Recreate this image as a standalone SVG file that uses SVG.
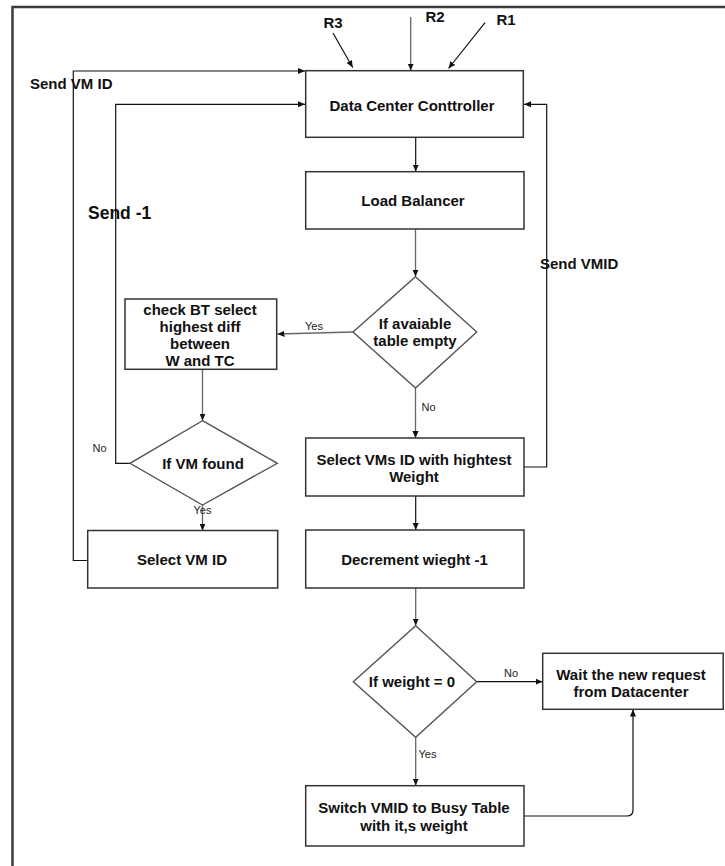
<svg xmlns="http://www.w3.org/2000/svg" width="725" height="866" viewBox="0 0 725 866">
<defs>
<marker id="ah" viewBox="0 0 8 8" refX="8" refY="4" markerWidth="7" markerHeight="7" markerUnits="userSpaceOnUse" orient="auto">
<path d="M0,0.5 L8,4 L0,7.5 Z" fill="#111"/>
</marker>
<style>
.box{fill:#fff;stroke:#333;stroke-width:1.5}
.dia{fill:#fff;stroke:#555;stroke-width:1.4}
.t{font-family:"Liberation Sans",Arial,sans-serif;font-weight:bold;font-size:15px;fill:#111;text-anchor:middle}
.ts{font-family:"Liberation Sans",Arial,sans-serif;font-size:11px;fill:#222}
.c{fill:none;stroke:#111;stroke-width:1.2;marker-end:url(#ah)}
.cg{fill:none;stroke:#666;stroke-width:1.3;marker-end:url(#ah)}
</style>
</defs>
<rect width="725" height="866" fill="#fff"/>
<path d="M12.5 866 V7 H725" fill="none" stroke="#3a3a3a" stroke-width="2.5"/>

<g id="connectors">
<path class="c" d="M88 560.5 H73.3 V71 H305"/>
<path class="c" d="M130 463.3 H115.7 V104.3 H305"/>
<path class="c" d="M524 467 H546.7 V104.3 H524"/>
<path class="c" d="M333 33 L352.7 67.5"/>
<path class="cg" d="M410.7 17 V70.5"/>
<path class="c" d="M485 22.7 L448.5 68.5"/>
<path class="c" d="M415.7 137.3 V171.5"/>
<path class="cg" d="M415.5 229 V276.5"/>
<path class="cg" d="M353 332 L277.5 334"/>
<path class="cg" d="M415.5 388 V438"/>
<path class="cg" d="M202.5 369.3 V420.5"/>
<path class="cg" d="M202.5 505 V530.5"/>
<path class="c" d="M415.7 496 V530"/>
<path class="cg" d="M415.7 588 V625.5"/>
<path class="c" d="M476.7 681.7 H542.5"/>
<path class="cg" d="M415.7 737.3 V785.5"/>
<path class="c" d="M524 816 H627 Q633 816 633 810 V709.5"/>
</g>

<g id="r-labels">
<text class="t" x="333" y="28">R3</text>
<text class="t" x="435" y="21.5">R2</text>
<text class="t" x="506" y="25">R1</text>
</g>

<g id="edge-labels">
<text class="t" x="30" y="89" style="text-anchor:start">Send VM ID</text>
<text class="t" x="88" y="219" style="text-anchor:start;font-size:17.5px">Send -1</text>
<text class="t" x="540" y="268.5" style="text-anchor:start">Send VMID</text>
<text class="ts" x="305" y="330">Yes</text>
<text class="ts" x="421.5" y="410.5">No</text>
<text class="ts" x="92.5" y="452">No</text>
<text class="ts" x="202.5" y="514" style="text-anchor:middle">Yes</text>
<text class="ts" x="504" y="677">No</text>
<text class="ts" x="418.5" y="758">Yes</text>
</g>

<g id="dcc">
<rect class="box" x="305.7" y="70.7" width="217.6" height="66.6"/>
<text class="t" x="412" y="111">Data Center Conttroller</text>
</g>

<g id="load-balancer">
<rect class="box" x="305.7" y="171.7" width="218.3" height="57.3"/>
<text class="t" x="413" y="205.5">Load Balancer</text>
</g>

<g id="if-available-empty">
<polygon class="dia" points="415.5,276.7 476.7,332 415.5,388 353,332"/>
<text class="t" x="415" y="329">If avaiable</text>
<text class="t" x="415" y="345.5">table empty</text>
</g>

<g id="check-bt">
<rect class="box" x="125" y="299" width="151.7" height="70.3"/>
<text class="t" x="200" y="314.5">check BT select</text>
<text class="t" x="200" y="331.5">highest diff</text>
<text class="t" x="200" y="348.5">between</text>
<text class="t" x="200" y="366">W and TC</text>
</g>

<g id="if-vm-found">
<polygon class="dia" points="202.5,420.7 277.3,463.3 202.5,505 130,463.3"/>
<text class="t" x="203" y="468.5">If VM found</text>
</g>

<g id="select-vm-id">
<rect class="box" x="87.7" y="530.5" width="190" height="57.5"/>
<text class="t" x="182" y="564.5">Select VM ID</text>
</g>

<g id="select-vms-highest">
<rect class="box" x="305.7" y="438" width="218.3" height="58"/>
<text class="t" x="414" y="464.5">Select VMs ID with hightest</text>
<text class="t" x="414" y="482">Weight</text>
</g>

<g id="decrement">
<rect class="box" x="305.7" y="530" width="218.3" height="58"/>
<text class="t" x="414.5" y="564.5">Decrement wieght -1</text>
</g>

<g id="if-weight-zero">
<polygon class="dia" points="415.7,625.7 476.7,681.7 415.7,737.3 353.3,681.7"/>
<text class="t" x="412" y="687">If weight = 0</text>
</g>

<g id="wait">
<rect class="box" x="542.7" y="653.3" width="180.5" height="56"/>
<text class="t" x="631" y="679.5">Wait the new request</text>
<text class="t" x="631" y="696.5">from Datacenter</text>
</g>

<g id="switch">
<rect class="box" x="305.7" y="785.7" width="218.3" height="60.3"/>
<text class="t" x="414" y="813">Switch VMID to Busy Table</text>
<text class="t" x="414" y="830.5">with it,s weight</text>
</g>
</svg>
